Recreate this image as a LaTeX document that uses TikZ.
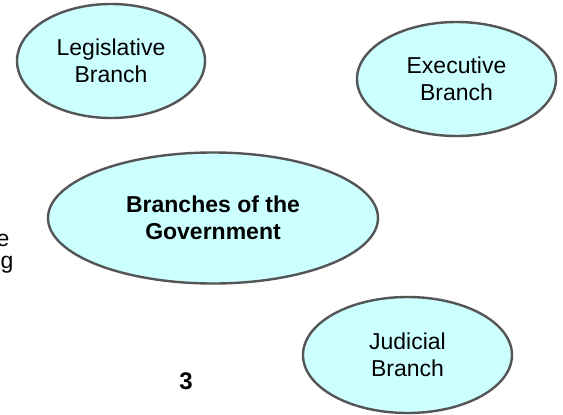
\documentclass[tikz,border=0pt]{standalone}
\usepackage{fontspec}
\setmainfont{Liberation Sans}
\usetikzlibrary{shapes.geometric}
\definecolor{bubblefill}{HTML}{CCFFFF}
\definecolor{bubbleline}{HTML}{555555}
\tikzset{
  bubble/.style={ellipse, draw=bubbleline, fill=bubblefill, line width=2.4pt,
    inner sep=0pt, align=center, font=\fontsize{23}{27}\selectfont},
  plaintext/.style={inner sep=0pt, font=\fontsize{23}{27}\selectfont}
}
\begin{document}
\begin{tikzpicture}[x=1pt,y=-1pt]
\useasboundingbox[fill=white] (0,0) rectangle (563,415);
\node[bubble, minimum width=188pt, minimum height=114pt] (leg) at (111,61) {Legislative\\Branch};
\node[bubble, minimum width=199pt, minimum height=114pt] (exe) at (456.5,79) {Executive\\Branch};
\node[bubble, minimum width=330pt, minimum height=131pt, font=\fontsize{23}{27}\selectfont\bfseries] (gov) at (213,218) {Branches of the\\Government};
\node[bubble, minimum width=209pt, minimum height=116pt] (jud) at (407.5,355) {Judicial\\Branch};
\node[plaintext, font=\fontsize{24}{28}\selectfont\bfseries, anchor=base] (num) at (186,389) {3};
\node[plaintext, anchor=base east] (cute) at (9.5,246) {e};
\node[plaintext, anchor=base east] (cutg) at (13.5,268) {g};
\end{tikzpicture}
\end{document}
